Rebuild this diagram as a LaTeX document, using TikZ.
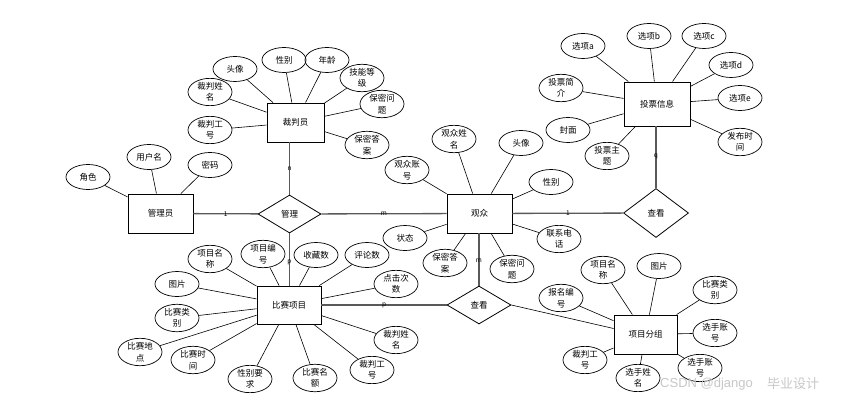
\documentclass[tikz,border=0pt]{standalone}
\usepackage{fontspec}
\setmainfont{Noto Sans CJK SC}
\newfontfamily\wmfont{Liberation Sans}
\usetikzlibrary{shapes.geometric}
\begin{document}
\begin{tikzpicture}[x=1pt,y=-1pt,
  every node/.style={font=\fontsize{8.5}{11.5}\selectfont},
  ent/.style={draw, rectangle, line width=0.9pt, inner sep=0pt},
  attr/.style={draw, ellipse, minimum width=44pt, minimum height=25pt, inner sep=0pt, align=center, line width=0.7pt},
  rel/.style={draw, diamond, inner sep=0pt, line width=0.8pt},
  conn/.style={line width=0.6pt},
  rline/.style={draw=black!65, line width=1.3pt},
  card/.style={font=\fontsize{6.5}{7}\selectfont, inner sep=0pt, fill=none}
]
\fill[white] (0,0) rectangle (846,401);
\useasboundingbox (0,0) rectangle (846,401);

% entities
\node[ent, minimum width=65pt, minimum height=39pt] (gly) at (160.5,213.5) {管理员};
\node[ent, minimum width=57pt, minimum height=39pt] (cpy) at (295.5,122.5) {裁判员};
\node[ent, minimum width=65pt, minimum height=39pt] (gz) at (479.5,213.5) {观众};
\node[ent, minimum width=66pt, minimum height=44pt] (tp) at (657,104) {投票信息};
\node[ent, minimum width=64pt, minimum height=38pt] (bs) at (289,305) {比赛项目};
\node[ent, minimum width=63pt, minimum height=39pt] (xm) at (645.5,334.5) {项目分组};

% relationships
\node[rel, minimum width=63pt, minimum height=38pt] (gl) at (289.5,214) {管理};
\node[rel, minimum width=64pt, minimum height=38pt] (ckA) at (479,305) {查看};
\node[rel, minimum width=65pt, minimum height=49pt] (ckB) at (656,213) {查看};

% relationship lines
\draw[rline] (gly) -- node[card, text=black] {1} (gl);
\draw[rline] (gl) -- node[card, text=black] {m} (gz);
\draw[rline] (gl.north) -- node[card, text=black] {n} (gl.north |- cpy.south);
\draw[rline] (gl.south) -- node[card, text=black, pos=0.55] {p} (gl.south |- bs.north);
\draw[rline] (bs) -- node[card, text=black] {p} (ckA);
\draw[rline] (ckA.north) -- node[card, text=black, pos=0.48] {m} (ckA.north |- gz.south);
\draw[rline] (gz) -- node[card, text=black] {1} (ckB);
\draw[rline] (ckB.north) -- node[card, text=black, pos=0.52] {q} (ckB.north |- tp.south);
\draw[conn] (ckA.east) -- ([yshift=6pt]xm.west);

% 管理员 attributes
\node[attr] (g1) at (88,177) {角色};
\node[attr] (g2) at (149,157) {用户名};
\node[attr] (g3) at (210,165) {密码};
\foreach \a in {g1,g2,g3} \draw[conn] (\a) -- (gly);

% 裁判员 attributes
\node[attr] (c1) at (235,69) {头像};
\node[attr] (c2) at (210,92) {裁判姓\\名};
\node[attr] (c3) at (210,130) {裁判工\\号};
\node[attr] (c4) at (284,60) {性别};
\node[attr] (c5) at (327,60) {年龄};
\node[attr] (c6) at (362,78) {技能等\\级};
\node[attr] (c7) at (382,104) {保密问\\题};
\node[attr] (c8) at (367,145) {保密答\\案};
\foreach \a in {c1,c2,c3,c4,c5,c6,c7,c8} \draw[conn] (\a) -- (cpy);

% 观众 attributes
\node[attr] (v1) at (454,139) {观众姓\\名};
\node[attr] (v2) at (521,143) {头像};
\node[attr] (v3) at (551,182) {性别};
\node[attr] (v4) at (407,170) {观众账\\号};
\node[attr] (v5) at (405,238) {状态};
\node[attr] (v6) at (445,263) {保密答\\案};
\node[attr] (v7) at (512,269) {保密问\\题};
\node[attr] (v8) at (559,239) {联系电\\话};
\foreach \a in {v1,v2,v3,v4,v5,v6,v7,v8} \draw[conn] (\a) -- (gz);

% 投票信息 attributes
\node[attr] (t1) at (583,46) {选项a};
\node[attr] (t2) at (649,36) {选项b};
\node[attr] (t3) at (704,36) {选项c};
\node[attr] (t4) at (731,65) {选项d};
\node[attr] (t5) at (740,98) {选项e};
\node[attr] (t6) at (740,142) {发布时\\间};
\node[attr] (t7) at (561,88) {投票简\\介};
\node[attr] (t8) at (568,130) {封面};
\node[attr] (t9) at (607,156) {投票主\\题};
\foreach \a in {t1,t2,t3,t4,t5,t6,t7,t8,t9} \draw[conn] (\a) -- (tp);

% 比赛项目 attributes
\node[attr] (b1) at (210,259) {项目名\\称};
\node[attr] (b2) at (263,254) {项目编\\号};
\node[attr] (b3) at (316,255) {收藏数};
\node[attr] (b4) at (367,255) {评论数};
\node[attr] (b5) at (396,284) {点击次\\数};
\node[attr] (b6) at (177,284) {图片};
\node[attr] (b7) at (177,318) {比赛类\\别};
\node[attr] (b8) at (140,352) {比赛地\\点};
\node[attr] (b9) at (193,360) {比赛时\\间};
\node[attr] (b10) at (250,379) {性别要\\求};
\node[attr] (b11) at (315,378) {比赛名\\额};
\node[attr] (b12) at (372,370) {裁判工\\号};
\node[attr] (b13) at (396,340) {裁判姓\\名};
\foreach \a in {b1,b2,b3,b4,b5,b6,b7,b8,b9,b10,b11,b12,b13} \draw[conn] (\a) -- (bs);

% 项目分组 attributes
\node[attr] (x1) at (561,298) {报名编\\号};
\node[attr] (x2) at (603,270) {项目名\\称};
\node[attr] (x3) at (659,266) {图片};
\node[attr] (x4) at (715,290) {比赛类\\别};
\node[attr] (x5) at (715,333) {选手账\\号};
\node[attr] (x6) at (700,368) {选手账\\号};
\node[attr] (x7) at (638,378) {选手姓\\名};
\node[attr] (x8) at (585,360) {裁判工\\号};
\foreach \a in {x1,x2,x3,x4,x5,x6,x7,x8} \draw[conn] (\a) -- (xm);

% watermark
\node[text=black!22, font=\wmfont\fontsize{13}{14}\selectfont, anchor=west, inner sep=0pt] (wm1) at (660,384) {CSDN @django};
\node[text=black!22, font=\fontsize{13}{14}\selectfont, anchor=west, inner sep=0pt] (wm2) at (767,384) {毕业设计};
\end{tikzpicture}
\end{document}
